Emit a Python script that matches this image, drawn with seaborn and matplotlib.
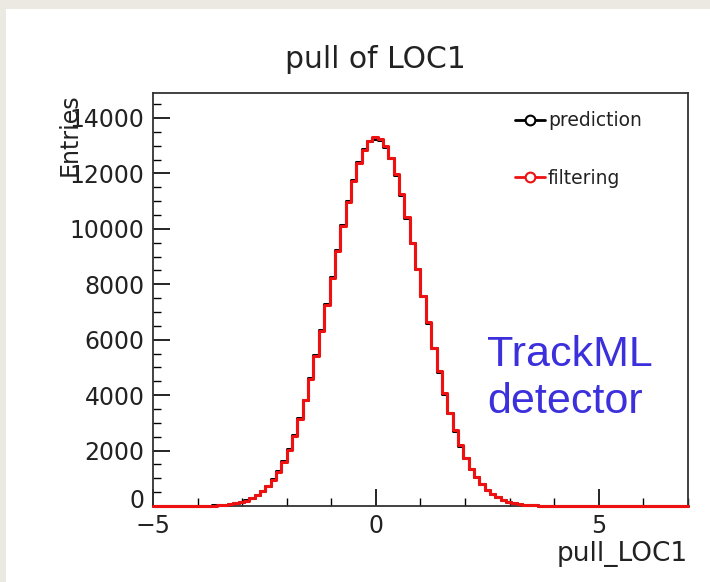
import numpy as np
import pandas as pd
import matplotlib
matplotlib.use("Agg")
import matplotlib.pyplot as plt
import matplotlib.transforms as mtransforms
from matplotlib.lines import Line2D
from matplotlib.patches import Rectangle
from matplotlib.ticker import MultipleLocator
import seaborn as sns

# ---- data (100 bins from -5 to 7) ----
x_min, x_max, n_bins = -5.0, 7.0, 100
filtering = [0, 0, 0, 0, 0, 0, 0, 0, 2, 6,
             11, 18, 29, 44, 66, 97, 140, 198, 280, 388,
             528, 712, 945, 1236, 1593, 2026, 2540, 3135, 3817, 4580,
             5420, 6318, 7262, 8230, 9190, 10115, 10975, 11737, 12374, 12858,
             13170, 13300, 13234, 12982, 12553, 11967, 11240, 10410, 9503, 8552,
             7582, 6630, 5713, 4853, 4063, 3353, 2728, 2187, 1729, 1347,
             1035, 783, 584, 430, 312, 223, 157, 109, 75, 50,
             33, 22, 14, 9, 6, 3, 0, 0, 0, 0,
             0, 0, 0, 0, 0, 0, 0, 0, 0, 0,
             0, 0, 0, 0, 0, 0, 0, 0, 0, 0]
prediction = [0, 0, 0, 0, 0, 0, 0, 0, 3, 7,
              12, 19, 31, 46, 70, 102, 146, 205, 290, 400,
              540, 725, 960, 1250, 1610, 2045, 2560, 3160, 3840, 4610,
              5450, 6350, 7290, 8260, 9220, 10140, 11000, 11760, 12395, 12875,
              13185, 13250, 13215, 12965, 12540, 11950, 11225, 10395, 9490, 8540,
              7570, 6620, 5705, 4845, 4055, 3345, 2720, 2180, 1722, 1340,
              1030, 778, 580, 427, 310, 221, 156, 108, 74, 49,
              33, 21, 14, 9, 6, 3, 0, 0, 0, 0,
              0, 0, 0, 0, 0, 0, 0, 0, 0, 0,
              0, 0, 0, 0, 0, 0, 0, 0, 0, 0]
series_labels = ["prediction", "filtering"]
series_colors = ["black", "#ee1111"]
y_ticks = [0, 2000, 4000, 6000, 8000, 10000, 12000, 14000]
x_ticks = [-5, 0, 5]

edges = np.linspace(x_min, x_max, n_bins + 1)
centers = 0.5 * (edges[:-1] + edges[1:])
df = pd.DataFrame({"x": centers, "prediction": prediction, "filtering": filtering})

sns.set_theme(style="white")
plt.rcParams["font.family"] = ["DejaVu Sans"]

fig = plt.figure(figsize=(7.10, 5.82), dpi=100, facecolor="white")
# beige frame strips of the screenshot
fig.patches.append(Rectangle((0, 1 - 9 / 582), 1, 9 / 582, transform=fig.transFigure,
                             facecolor="#ece9e2", edgecolor="none", zorder=0))
fig.patches.append(Rectangle((0, 0), 6 / 710, 1, transform=fig.transFigure,
                             facecolor="#ece9e2", edgecolor="none", zorder=0))

ax = fig.add_axes([153 / 710, 1 - 506 / 582, (688 - 153) / 710, (506 - 93) / 582])

sns.histplot(data=df, x="x", weights="prediction", bins=n_bins, binrange=(x_min, x_max),
             element="step", fill=False, color=series_colors[0], linewidth=2.2, ax=ax)
sns.histplot(data=df, x="x", weights="filtering", bins=n_bins, binrange=(x_min, x_max),
             element="step", fill=False, color=series_colors[1], linewidth=2.2, ax=ax)
for ln in ax.lines:
    ln.set_zorder(3)
    ln.set_clip_on(False)

ax.set_xlim(x_min, x_max)
ax.set_ylim(0, 14900)
ax.set_xticks(x_ticks)
ax.set_yticks(y_ticks)
ax.xaxis.set_minor_locator(MultipleLocator(1))
ax.yaxis.set_minor_locator(MultipleLocator(500))
ax.tick_params(axis="both", which="both", direction="in", top=False, right=False,
               bottom=True, left=True, color="black")
ax.tick_params(axis="x", which="major", length=12, width=1.2, labelsize=17, pad=6)
ax.tick_params(axis="x", which="minor", length=6, width=1.0)
ax.tick_params(axis="y", which="major", length=12, width=1.2, labelsize=17, pad=6)
ax.tick_params(axis="y", which="minor", length=6, width=1.0)
for t in ax.get_xticklabels() + ax.get_yticklabels():
    t.set_color("#222222")
# lift the y "0" label a little, as in the reference
lab0 = ax.get_yticklabels()[0]
lab0.set_transform(lab0.get_transform() +
                   mtransforms.ScaledTranslation(0, 7 / 100, fig.dpi_scale_trans))
for s in ax.spines.values():
    s.set_color("#333333")
    s.set_linewidth(1.3)
ax.set_facecolor("white")

ax.set_xlabel("pull_LOC1", fontsize=19, color="#222222", loc="right", labelpad=2)
ax.set_ylabel("Entries", fontsize=17, color="#222222", loc="top")
ax.yaxis.set_label_coords(-0.133, 1.0)

fig.text(375 / 710, 1 - 60 / 582, "pull of LOC1", ha="center", va="center",
         fontsize=21.5, color="#222222")

handles = [Line2D([], [], color=c, lw=2, marker="o", markersize=7,
                  markerfacecolor="white", markeredgecolor=c, markeredgewidth=1.5)
           for c in series_colors]
ax.legend(handles, series_labels, loc="upper left", bbox_to_anchor=(0.677, 0.956),
          frameon=False, fontsize=13.5, handlelength=1.6, handletextpad=0.15,
          labelspacing=2.05, borderpad=0, borderaxespad=0, labelcolor="#222222")

ax.text((487 - 153) / 535, (506 - 355) / 413, "TrackML", transform=ax.transAxes,
        ha="left", va="center", fontsize=31, color="#3b30dc",
        family=["Liberation Sans", "DejaVu Sans"])
ax.text((487 - 153) / 535, (506 - 402) / 413, "detector", transform=ax.transAxes,
        ha="left", va="center", fontsize=31, color="#3b30dc",
        family=["Liberation Sans", "DejaVu Sans"])

fig.savefig("out.png", dpi=100, facecolor="white")
